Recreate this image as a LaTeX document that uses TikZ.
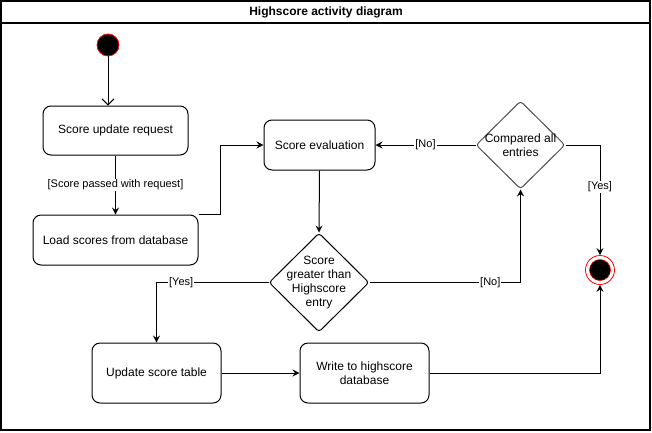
\documentclass[tikz,border=0pt]{standalone}
\usepackage{fontspec}
\setmainfont{Liberation Sans}
\usetikzlibrary{shapes.geometric,arrows.meta}
\begin{document}
\begin{tikzpicture}[x=1pt,y=-1pt,
  every node/.style={font=\fontsize{12}{14}\selectfont},
  act/.style={draw, line width=1pt, rounded corners=8pt, inner sep=0pt, align=center},
  dec/.style={draw, line width=1pt, diamond, rounded corners=3pt, inner sep=0pt},
  dectext/.style={align=center, inner sep=0pt},
  conn/.style={line width=1pt, -{Stealth[length=7pt,width=7pt,inset=2.5pt]}},
  lbl/.style={fill=white, inner sep=1pt, font=\fontsize{11}{13}\selectfont}
]
\useasboundingbox (0,0) rectangle (652,432);
\draw[line width=1.2pt] (1,1) rectangle (650,430);
\draw[line width=1.2pt] (1,23) -- (650,23);
\node[font=\bfseries\fontsize{12}{14}\selectfont] (title) at (326,12) {Highscore activity diagram};

\node[circle, fill=black, draw=red, line width=0.8pt, minimum size=22pt, inner sep=0pt] (start) at (108,45) {};
\node[act, minimum width=145pt, minimum height=49pt] (req) at (115.5,130.5) {Score update request};
\node[act, minimum width=165pt, minimum height=50pt] (load) at (115.5,240) {Load scores from database};
\node[act, minimum width=111pt, minimum height=50pt] (eval) at (319.5,145) {Score evaluation};
\node[dec, minimum width=100pt, minimum height=99pt] (d1) at (319,282.5) {};
\node[dectext] (d1t) at (d1.center) {Score\\greater than\\Highscore\\entry};
\node[dec, draw=black!70, minimum width=89pt, minimum height=88pt] (d2) at (520.5,145) {};
\node[dectext] (d2t) at (d2.center) {Compared all\\entries};
\node[act, minimum width=129pt, minimum height=60pt] (upd) at (156.5,373) {Update score table};
\node[act, minimum width=129pt, minimum height=60pt] (wr) at (364.5,373) {Write to highscore\\database};
\node[circle, draw=red, fill=white, line width=0.8pt, minimum size=29pt, inner sep=0pt] (final) at (600,270) {};
\node[circle, draw=red, fill=black, line width=0.6pt, minimum size=21pt, inner sep=0pt] (finalin) at (600,270) {};

\draw[line width=1pt, -{Straight Barb[length=6pt,width=12pt]}] (start) -- (start |- req.north);
\draw[conn] (req.south) -- node[lbl] {[Score passed with request]} (load.north);
\draw[conn] (load.north east) -- ++(22,0) |- (eval.west);
\draw[conn] (eval.south) -- (d1.north);
\draw[conn] (d1.west) -| node[lbl, pos=0.39] {[Yes]} (upd.north);
\draw[conn] (upd.east) -- (wr.west);
\draw[conn] (wr.east) -| (final.south);
\draw[conn] (d1.east) -| node[lbl, pos=0.40] {[No]} (d2.south);
\draw[conn] (d2.west) -- node[lbl] {[No]} (eval.east);
\draw[conn] (d2.east) -| node[lbl, pos=0.69] {[Yes]} (final.north);
\end{tikzpicture}
\end{document}
